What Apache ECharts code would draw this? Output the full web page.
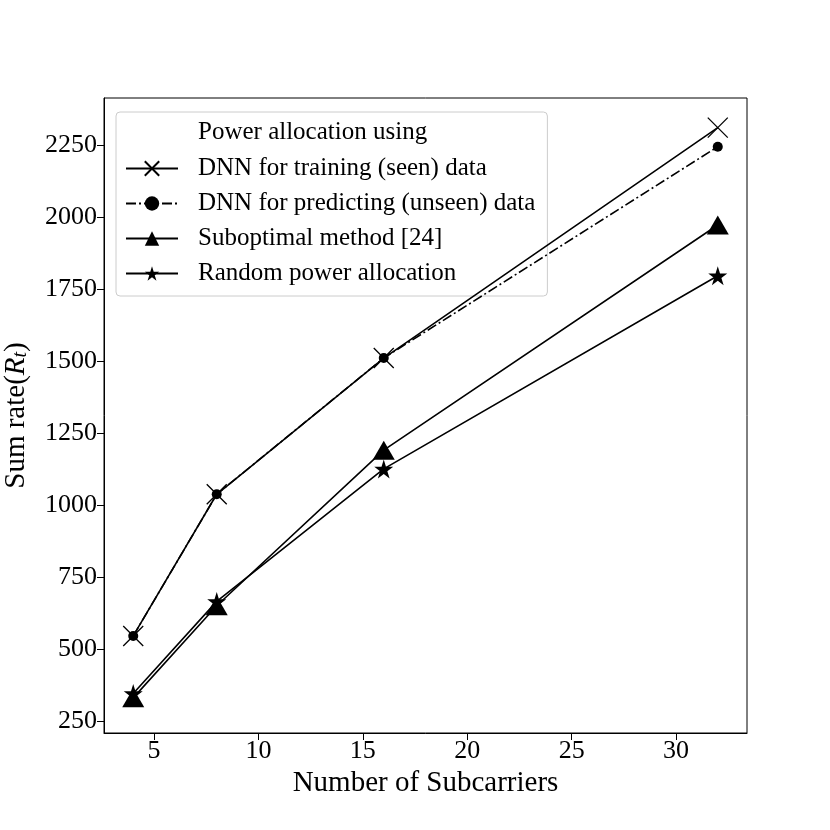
<!DOCTYPE html>
<html><head><meta charset="utf-8">
<script src="https://cdn.jsdelivr.net/npm/echarts@6/dist/echarts.min.js"></script>
<style>html,body{margin:0;padding:0;background:#fff}#c{width:830px;height:830px}</style>
</head><body><div id="c"></div>
<script>
const subcarriers = [4, 8, 16, 32];
const dnnTraining = [545, 1037, 1510, 2310];
const dnnPredicting = [545, 1037, 1510, 2244];
const suboptimal = [330, 650, 1190, 1972];
const randomAlloc = [345, 665, 1125, 1796];
const xTicks = [5, 10, 15, 20, 25, 30];
const yTicks = [250, 500, 750, 1000, 1250, 1500, 1750, 2000, 2250];
const seriesNames = ['DNN for training (seen) data', 'DNN for predicting (unseen) data', 'Suboptimal method [24]', 'Random power allocation'];
const legendTitle = 'Power allocation using';

const pairs = arr => subcarriers.map((x, i) => [x, arr[i]]);
const FONT = '"Liberation Serif", "DejaVu Serif", serif';
const starPath = 'path://M50,0 L61.17,34.63 L97.55,34.55 L68.07,55.87 L79.39,90.45 L50,69 L20.61,90.45 L31.93,55.87 L2.45,34.55 L38.83,34.63 Z';
const crossPath = 'path://M0,0 L10,10 M10,0 L0,10';

const chart = echarts.init(document.getElementById('c'), null, {renderer: 'canvas'});
chart.setOption({
  animation: false,
  backgroundColor: '#fff',
  grid: {left: 104, right: 83, top: 98, bottom: 97, show: true, borderColor: '#000', borderWidth: 1, backgroundColor: 'transparent', outerBoundsMode: 'none', containLabel: false},
  graphic: [{
    type: 'text', left: 198, top: 120, z: 100,
    style: {text: legendTitle, font: '25px ' + FONT, fill: '#000'}
  }],
  legend: {
    show: true, orient: 'vertical', left: 116, top: 112,
    padding: [42, 12, 8, 9],
    backgroundColor: 'rgba(255,255,255,0.85)', borderColor: '#ccc', borderWidth: 1, borderRadius: 4,
    itemWidth: 52, itemHeight: 18, itemGap: 6,
    textStyle: {fontFamily: FONT, fontSize: 25, color: '#000', lineHeight: 29, padding: [0, 0, 0, 15]},
    data: seriesNames
  },
  xAxis: {
    type: 'value', min: 2.6, max: 33.4,
    name: 'Number of Subcarriers', nameLocation: 'middle', nameGap: 35,
    nameTextStyle: {fontFamily: FONT, fontSize: 29, color: '#000'},
    axisLine: {show: true, lineStyle: {color: '#000', width: 1}},
    axisTick: {show: true, inside: false, length: 7, lineStyle: {color: '#000'}, customValues: xTicks},
    axisLabel: {fontFamily: FONT, fontSize: 26, color: '#000', margin: 5, formatter: v => String(v), customValues: xTicks},
    splitLine: {show: false}
  },
  yAxis: {
    type: 'value', min: 208, max: 2413,
    name: '{n|Sum rate(}{i|R}{s|t}{n|)}', nameLocation: 'middle', nameGap: 73,
    nameTextStyle: {
      fontFamily: FONT, fontSize: 29, color: '#000',
      rich: {
        n: {fontFamily: FONT, fontSize: 29, color: '#000'},
        i: {fontFamily: FONT, fontSize: 29, fontStyle: 'italic', color: '#000'},
        s: {fontFamily: FONT, fontSize: 20, fontStyle: 'italic', color: '#000', verticalAlign: 'bottom', padding: [9, 0, 0, 0]}
      }
    },
    axisLine: {show: true, lineStyle: {color: '#000', width: 1}},
    axisTick: {show: true, inside: false, length: 7, lineStyle: {color: '#000'}, customValues: yTicks},
    axisLabel: {fontFamily: FONT, fontSize: 26, color: '#000', margin: 7, formatter: v => String(v), customValues: yTicks},
    splitLine: {show: false}
  },
  series: [
    {
      name: seriesNames[0], type: 'line', data: pairs(dnnTraining), z: 4,
      symbol: crossPath, symbolSize: 20,
      lineStyle: {color: '#000', width: 1.6, type: 'solid'},
      itemStyle: {color: 'transparent', borderColor: '#000', borderWidth: 1.3}
    },
    {
      name: seriesNames[1], type: 'line', data: pairs(dnnPredicting), z: 5,
      symbol: 'circle', symbolSize: 10,
      lineStyle: {color: '#000', width: 1.6, type: [10, 3, 2, 3]},
      itemStyle: {color: '#000', borderWidth: 0}
    },
    {
      name: seriesNames[2], type: 'line', data: pairs(suboptimal), z: 3,
      symbol: 'triangle', symbolSize: [22, 19],
      lineStyle: {color: '#000', width: 1.6, type: 'solid'},
      itemStyle: {color: '#000', borderWidth: 0}
    },
    {
      name: seriesNames[3], type: 'line', data: pairs(randomAlloc), z: 3,
      symbol: starPath, symbolSize: 19,
      lineStyle: {color: '#000', width: 1.6, type: 'solid'},
      itemStyle: {color: '#000', borderWidth: 0}
    }
  ]
});
</script></body></html>
